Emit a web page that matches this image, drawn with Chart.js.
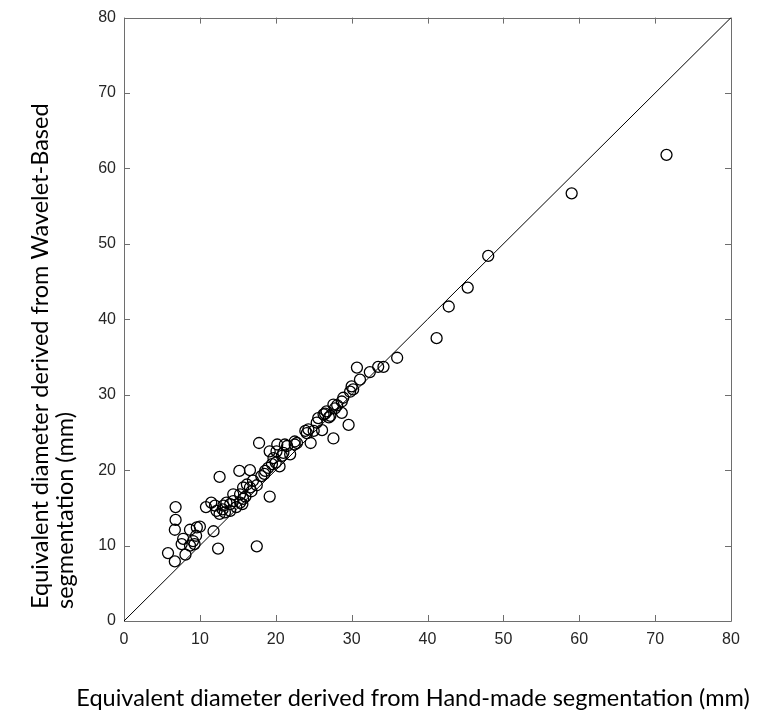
<!DOCTYPE html>
<html>
<head>
<meta charset="utf-8">
<script src="https://cdn.jsdelivr.net/npm/chart.js@4/dist/chart.umd.min.js"></script>
<style>
  html, body { margin: 0; padding: 0; background: #fff; }
  #wrap { width: 761px; height: 719px; }
</style>
</head>
<body>
<div id="wrap"><canvas id="c" width="761" height="719"></canvas></div>
<script>
const xTitle = 'Equivalent diameter derived from Hand-made segmentation (mm)';
const yTitle = ['Equivalent diameter derived from Wavelet-Based', 'segmentation (mm)'];
const tickValues = [0, 10, 20, 30, 40, 50, 60, 70, 80];

const handMade = [
  6.8, 6.8, 6.7, 5.8, 6.7, 7.8, 7.6, 8.1, 8.7, 9.6, 10.0, 9.1, 8.7, 9.5, 9.3,
  11.8, 12.4, 17.5, 12.6, 10.8, 11.5, 12.2, 12.6, 13.1, 13.5, 13.3, 14.0, 14.4, 14.8, 15.3,
  14.4, 15.3, 15.7, 15.7, 16.2, 16.6, 17.0, 15.2, 16.6, 17.8, 19.2, 18.1, 18.6, 19.5, 19.7,
  20.1, 19.2, 20.2, 21.5, 22.5, 20.8, 21.9, 21.2, 22.5, 22.8, 23.9, 24.1, 24.3, 25.0, 24.6,
  25.4, 26.1, 25.6, 26.3, 26.7, 27.2, 27.6, 27.8, 28.7, 27.6, 28.7, 28.9, 29.8, 30.0, 30.2,
  29.6, 31.1, 30.7, 32.4, 33.5, 34.2, 36.0, 41.2, 42.8, 45.3, 48.0, 59.0, 71.5,
  13.0, 14.0, 15.6, 16.0, 16.8, 17.5, 18.5, 19.0, 20.0, 20.5, 21.0, 12.0, 27.0, 28.1, 26.5
];
const waveletBased = [
  15.1, 13.4, 12.1, 9.0, 7.9, 10.9, 10.2, 8.8, 12.1, 12.4, 12.5, 10.6, 10.0, 11.3, 10.2,
  11.9, 9.6, 9.9, 19.1, 15.1, 15.7, 14.6, 14.2, 15.3, 15.7, 14.4, 14.6, 15.9, 15.1, 15.7,
  16.8, 16.8, 16.2, 17.7, 18.1, 17.7, 18.6, 19.9, 20.0, 23.6, 16.5, 19.2, 19.9, 20.8, 21.6,
  22.5, 22.5, 23.4, 23.2, 23.4, 21.9, 22.1, 23.4, 23.8, 23.6, 25.2, 24.9, 25.4, 25.2, 23.6,
  26.3, 25.3, 26.9, 27.4, 27.8, 27.2, 28.7, 28.2, 27.6, 24.2, 29.1, 29.6, 30.4, 31.1, 30.7,
  26.0, 32.0, 33.6, 33.0, 33.7, 33.7, 34.9, 37.5, 41.7, 44.2, 48.4, 56.7, 61.8,
  14.8, 15.5, 15.5, 16.5, 17.2, 18.0, 19.5, 20.3, 21.0, 20.5, 22.3, 15.3, 27.0, 28.6, 27.5
];
const identityX = [0, 80];
const identityY = [0, 80];

const axisColor = '#6e6e6e';
const textColor = '#262626';
const titleFont = "Lato, 'Open Sans', sans-serif";

const frame = {
  id: 'frame',
  beforeDatasetsDraw(chart) {
    const { ctx, chartArea: a, scales: { x, y } } = chart;
    const len = 6;
    ctx.save();
    ctx.strokeStyle = axisColor;
    ctx.lineWidth = 1;
    ctx.beginPath();
    ctx.rect(Math.round(a.left) + 0.5, Math.round(a.top) + 0.5,
             Math.round(a.right - a.left), Math.round(a.bottom - a.top));
    x.ticks.forEach(t => {
      const px = Math.round(x.getPixelForValue(t.value)) + 0.5;
      ctx.moveTo(px, a.bottom); ctx.lineTo(px, a.bottom - len);
      ctx.moveTo(px, a.top); ctx.lineTo(px, a.top + len);
    });
    y.ticks.forEach(t => {
      const py = Math.round(y.getPixelForValue(t.value)) + 0.5;
      ctx.moveTo(a.left, py); ctx.lineTo(a.left + len, py);
      ctx.moveTo(a.right, py); ctx.lineTo(a.right - len, py);
    });
    ctx.stroke();
    ctx.restore();
  },
  afterDraw(chart) {
    const { ctx } = chart;
    ctx.save();
    ctx.fillStyle = '#000';
    ctx.font = '23.5px ' + titleFont;
    ctx.textBaseline = 'middle';
    ctx.textAlign = 'center';
    ctx.fillText(xTitle, 413, 698);
    ctx.translate(40, 609);
    ctx.rotate(-Math.PI / 2);
    ctx.textAlign = 'left';
    yTitle.forEach((line, i) => ctx.fillText(line, 0, i * 25));
    ctx.restore();
  }
};

const scatterPoints = handMade.map((v, i) => ({ x: v, y: waveletBased[i] }));
const linePoints = identityX.map((v, i) => ({ x: v, y: identityY[i] }));

new Chart(document.getElementById('c'), {
  type: 'scatter',
  data: {
    datasets: [
      {
        data: linePoints,
        showLine: true,
        borderColor: '#000',
        borderWidth: 1,
        pointRadius: 0,
        fill: false,
        order: 2
      },
      {
        data: scatterPoints,
        pointStyle: 'circle',
        pointRadius: 5.5,
        pointBorderWidth: 1.3,
        pointBorderColor: '#000',
        pointBackgroundColor: 'rgba(0,0,0,0)',
        order: 1
      }
    ]
  },
  options: {
    responsive: false,
    animation: false,
    devicePixelRatio: 1,
    layout: { padding: { top: 14, right: 30, left: 0, bottom: 0 } },
    plugins: { legend: { display: false }, tooltip: { enabled: false } },
    scales: {
      x: {
        type: 'linear',
        min: 0, max: 80,
        afterBuildTicks(scale) { scale.ticks = tickValues.map(v => ({ value: v })); },
        afterFit(scale) { scale.height = 98; },
        grid: { display: false, drawTicks: false },
        border: { display: false },
        ticks: { padding: 9, color: textColor, font: { family: "'Liberation Sans', Arial, sans-serif", size: 16 }, maxRotation: 0 },
        title: { display: false, text: xTitle }
      },
      y: {
        type: 'linear',
        min: 0, max: 80,
        afterBuildTicks(scale) { scale.ticks = tickValues.map(v => ({ value: v })); },
        afterFit(scale) { scale.width = 124; },
        grid: { display: false, drawTicks: false },
        border: { display: false },
        ticks: { padding: 8, color: textColor, font: { family: "'Liberation Sans', Arial, sans-serif", size: 16 } },
        title: { display: false, text: yTitle }
      }
    }
  },
  plugins: [frame]
});
</script>
</body>
</html>
